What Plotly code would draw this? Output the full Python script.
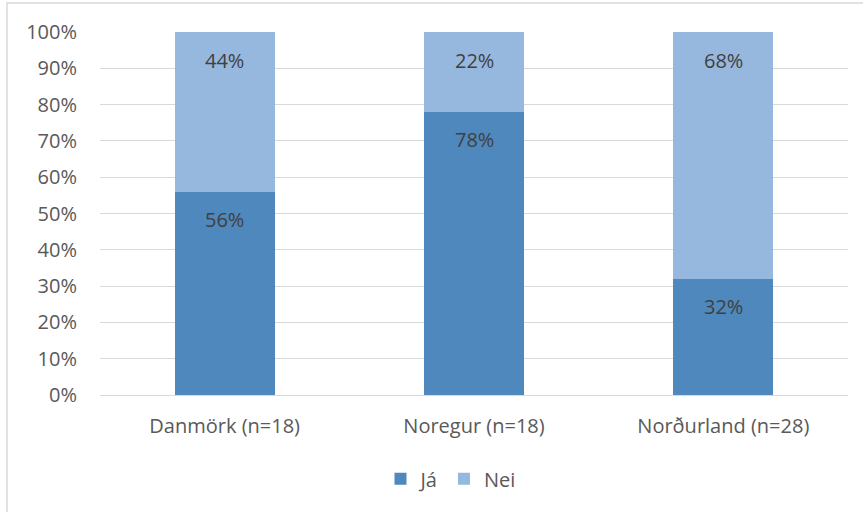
import plotly.graph_objects as go

categories = ["Danmörk (n=18)", "Noregur (n=18)", "Norðurland (n=28)"]
ja_values = [0.56, 0.78, 0.32]
nei_values = [0.44, 0.22, 0.68]
series_names = ["Já", "Nei"]
tick_vals = [i / 10 for i in range(11)]
tick_text = [f"{i * 10}%" for i in range(11)]

dark_blue = "#4F88BC"
light_blue = "#97B8DE"
text_col = "#595959"
grid_col = "#D9D9D9"
font_family = "Open Sans, Noto Sans, sans-serif"
fs = 20

fig = go.Figure()
fig.add_trace(go.Bar(x=categories, y=ja_values, name=series_names[0],
                     marker=dict(color=dark_blue, line=dict(width=0))))
fig.add_trace(go.Bar(x=categories, y=nei_values, name=series_names[1],
                     marker=dict(color=light_blue, line=dict(width=0))))

# value labels near the top of each segment
for cat, ja, nei in zip(categories, ja_values, nei_values):
    for top, val in ((ja, ja), (ja + nei, nei)):
        fig.add_annotation(x=cat, y=top, text=f"{round(val * 100)}%",
                           showarrow=False, yanchor="middle", yshift=-28,
                           font=dict(size=fs, color="#404040", family=font_family))

# light frame around the chart area
W, H = 748, 363
L, T = 100, 32
fig.add_shape(type="rect", xref="paper", yref="paper",
              x0=(7 - L) / W, x1=(880 - L) / W,
              y0=1 - (530 - T) / H, y1=1 + (T - 3) / H,
              line=dict(color=grid_col, width=1.5), fillcolor="rgba(0,0,0,0)",
              layer="below")

fig.update_layout(
    barmode="stack",
    bargap=0.6,
    width=863, height=512,
    margin=dict(l=L, r=863 - L - W, t=T, b=512 - T - H),
    paper_bgcolor="white", plot_bgcolor="white",
    font=dict(family=font_family, size=fs, color=text_col),
    showlegend=True,
    legend=dict(orientation="h", xref="container", yref="container",
                x=0.522, xanchor="center", y=0.065, yanchor="middle",
                font=dict(size=fs, color=text_col), traceorder="normal",
                itemwidth=30),
    xaxis=dict(showgrid=False, showline=False, ticks="", ticklabelstandoff=17,
               tickfont=dict(size=fs, color=text_col)),
    yaxis=dict(range=[0, 1], tickvals=tick_vals, ticktext=tick_text,
               showgrid=True, gridcolor=grid_col, gridwidth=1.3,
               zeroline=True, zerolinecolor=grid_col, zerolinewidth=1.3,
               showline=False, ticks="", ticklabelstandoff=22,
               tickfont=dict(size=fs, color=text_col)),
)

fig.write_html("out.html")
